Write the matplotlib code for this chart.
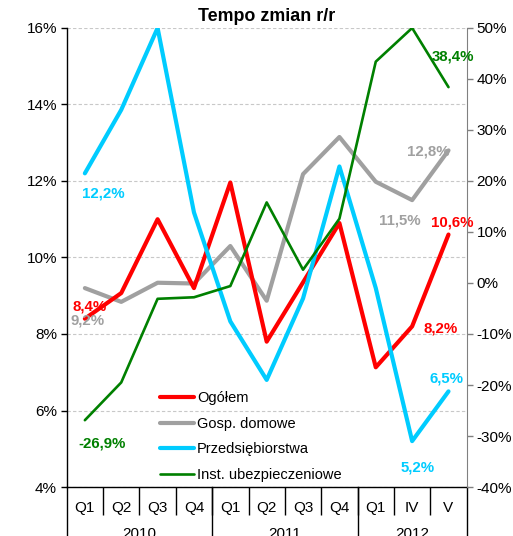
import numpy as np
from matplotlib import pyplot as plt
from matplotlib import transforms

plt.rcParams["font.family"] = ["Liberation Sans", "DejaVu Sans"]

# categories
quarters = ["Q1", "Q2", "Q3", "Q4", "Q1", "Q2", "Q3", "Q4", "Q1", "IV", "V"]
years = ["2010", "2011", "2012"]
year_sizes = [4, 4, 3]

# series (left axis, %)
ogolem = [8.4, 9.07, 11.0, 9.2, 11.96, 7.8, 9.35, 10.9, 7.13, 8.2, 10.6]
gosp_domowe = [9.2, 8.84, 9.34, 9.32, 10.3, 8.87, 12.18, 13.15, 11.98, 11.5, 12.8]
przedsiebiorstwa = [12.2, 13.86, 16.0, 11.18, 8.33, 6.8, 8.93, 12.38, 9.2, 5.2, 6.5]
# series (right axis, %)
inst_ubezp = [-26.9, -19.5, -3.1, -2.8, -0.6, 15.8, 2.6, 12.6, 43.4, 50.0, 38.4]

RED = "#FF0000"
GREY = "#A0A0A0"
CYAN = "#00CCFF"
GREEN = "#008000"

fig = plt.figure(figsize=(5.13, 5.36), dpi=100)
ax = fig.add_axes([0.130, 0.0914, 0.7797, 0.8564])
ax2 = ax.twinx()

x = np.arange(len(quarters))

l1, = ax.plot(x, ogolem, color=RED, lw=3.0, label="Ogółem",
              solid_capstyle="round", solid_joinstyle="round", zorder=3)
l2, = ax.plot(x, gosp_domowe, color=GREY, lw=3.0, label="Gosp. domowe",
              solid_capstyle="round", solid_joinstyle="round", zorder=2)
l3, = ax.plot(x, przedsiebiorstwa, color=CYAN, lw=3.0, label="Przedsiębiorstwa",
              solid_capstyle="round", solid_joinstyle="round", zorder=4)
l4, = ax2.plot(x, inst_ubezp, color=GREEN, lw=1.9, label="Inst. ubezpieczeniowe",
               solid_capstyle="round", solid_joinstyle="round", zorder=5)

# axes ranges and ticks
ax.set_xlim(-0.5, len(quarters) - 0.5)
ax.set_ylim(4, 16)
ax.set_yticks(np.arange(4, 17, 2))
ax.set_yticklabels([f"{v}%" for v in range(4, 17, 2)], fontsize=11)
ax2.set_ylim(-40, 50)
ax2.set_yticks(np.arange(-40, 51, 10))
ax2.set_yticklabels([f"{v}%" for v in range(-40, 51, 10)], fontsize=11)

ax.yaxis.grid(True, color="#C8C8C8", lw=0.8, linestyle=(0, (3, 2)))
ax.set_axisbelow(True)

for a in (ax, ax2):
    a.spines["top"].set_visible(False)
ax2.spines["left"].set_visible(False)
ax2.spines["bottom"].set_visible(False)
ax.spines["right"].set_visible(False)
ax2.spines["right"].set_color("#808080")
ax.spines["left"].set_linewidth(1.0)
ax.spines["bottom"].set_linewidth(1.0)

ax.tick_params(axis="y", direction="out", length=4, width=1, pad=3)
ax2.tick_params(axis="y", direction="out", length=4, width=1, color="#808080", pad=3)

# category labels and separators
ax.set_xticks(x)
ax.set_xticklabels(quarters, fontsize=11)
ax.tick_params(axis="x", which="major", length=0, pad=10)
ax.set_xticks(np.arange(0.5, len(quarters) - 1, 1), minor=True)
ax.tick_params(axis="x", which="minor", length=20, width=1, direction="out")

bounds = np.concatenate([[0], np.cumsum(year_sizes)]) - 0.5
for b in bounds:
    ax.axvline(b, ymin=-0.12, ymax=0, clip_on=False, color="k", lw=1.0)
trans = transforms.blended_transform_factory(ax.transData, ax.transAxes)
for i, yr in enumerate(years):
    cx = (bounds[i] + bounds[i + 1]) / 2
    ax.text(cx, -0.088, yr, transform=trans, ha="center", va="top", fontsize=11)

ax.set_title("Tempo zmian r/r", fontsize=12.9, fontweight="bold", pad=5)


def fmt(v):
    return f"{v:.1f}%".replace(".", ",")


def label(axis, series, i, color, dx, dy):
    # dx, dy in pixels
    axis.annotate(fmt(series[i]), (x[i], series[i]), xytext=(dx * 0.72, dy * 0.72),
                  textcoords="offset points", ha="center", va="center",
                  color=color, fontsize=10.8, fontweight="bold", zorder=6)


label(ax, przedsiebiorstwa, 0, CYAN, 18, -20)
label(ax, ogolem, 0, RED, 5, 12)
label(ax, gosp_domowe, 0, GREY, 3, -32)
label(ax2, inst_ubezp, 0, GREEN, 17, -23)
label(ax2, inst_ubezp, 10, GREEN, 4, 31)
label(ax, gosp_domowe, 10, GREY, -20, -1)
label(ax, gosp_domowe, 9, GREY, -12, -20)
label(ax, ogolem, 10, RED, 4, 12)
label(ax, ogolem, 9, RED, 28, -2)
label(ax, przedsiebiorstwa, 10, CYAN, -2, 13)
label(ax, przedsiebiorstwa, 9, CYAN, 6, -26)

ax2.legend(handles=[l1, l2, l3, l4], loc="upper left",
           bbox_to_anchor=(160 / 513, 1 - 391 / 536), bbox_transform=fig.transFigure,
           frameon=False, fontsize=10.5, handlelength=2.3, handletextpad=0.25,
           borderpad=0, borderaxespad=0, labelspacing=0.8)

plt.savefig("out.png", dpi=100)
